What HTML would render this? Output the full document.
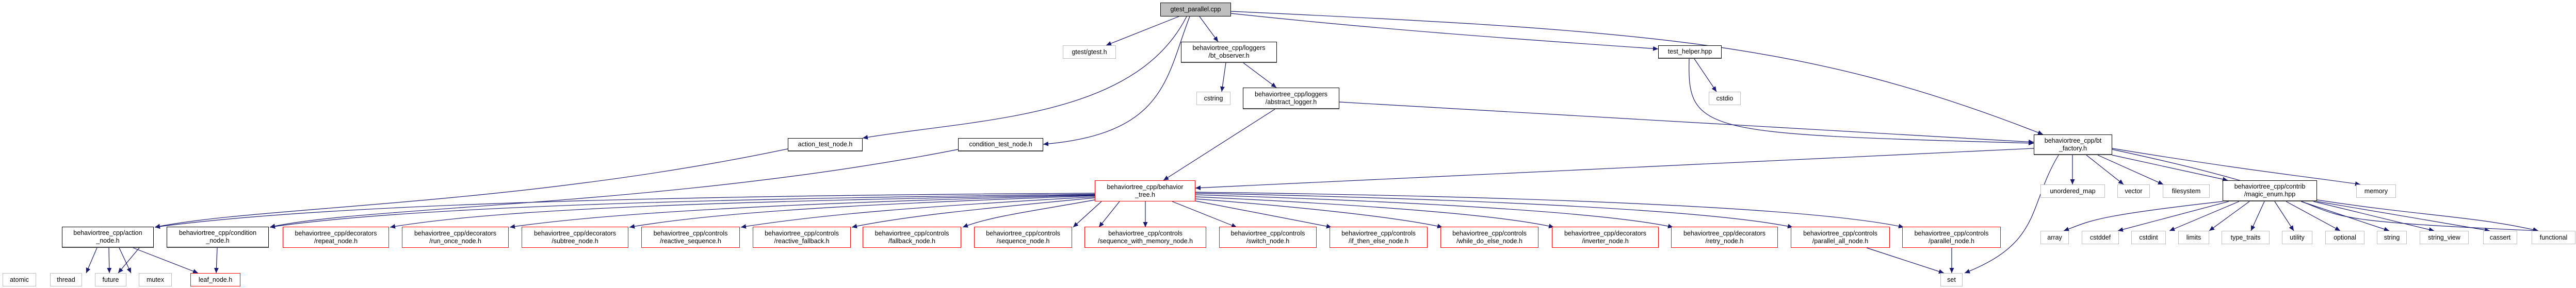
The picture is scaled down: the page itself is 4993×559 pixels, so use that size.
<!DOCTYPE html>
<html><head><meta charset="utf-8"><style>
html,body{margin:0;padding:0;background:#fff;}
body{width:4993px;height:559px;position:relative;overflow:hidden;font-family:"Liberation Sans","DejaVu Sans",sans-serif;}
.n{position:absolute;box-sizing:border-box;background:#fff;border:1px solid #000;font-size:12.5px;line-height:15px;text-align:center;color:#000;display:flex;align-items:center;justify-content:center;white-space:nowrap;}
.g{border-color:#bfbfbf;}
.r{border-color:#ff0000;}
.k{border-color:#000;border-bottom:2px solid #444;}
svg{position:absolute;left:0;top:0;}
</style></head><body>
<svg width="4993" height="559" viewBox="0 0 4993 559">
<defs><marker id="a" markerUnits="userSpaceOnUse" markerWidth="11" markerHeight="9" refX="10" refY="4.5" orient="auto"><path d="M0,0 L10,4.5 L0,9 z" fill="#191970"/></marker></defs>
<g fill="none" stroke="#191970" stroke-width="1.2" marker-end="url(#a)">
<path d="M2285,32 L2144,88"/>
<path d="M2325,32 L2361,81"/>
<path d="M2300,32 C2200,230 1900,230 1672,268"/>
<path d="M2306,32 C2260,150 2260,260 2022,280"/>
<path d="M2386,26 C2700,60 3000,80 3214,95"/>
<path d="M2386,22 C3200,60 3500,80 3960,261"/>
<path d="M2376,122 L2368,178"/>
<path d="M2410,122 L2474,170"/>
<path d="M2471,212 L2255,350"/>
<path d="M2596,198 L3942,276"/>
<path d="M3284,114 L3327,178"/>
<path d="M3274,114 C3270,260 3300,260 3942,278"/>
<path d="M1527,289 C1000,400 500,400 300,441"/>
<path d="M1857,290 C1300,400 700,400 523,441"/>
<path d="M3942,288 L2317,365"/>
<path d="M2122,375 C1200,380 600,400 300,441"/>
<path d="M2122,377 C1400,385 800,400 523,441"/>
<path d="M2122,378 C1500,390 1000,400 756,441"/>
<path d="M2122,379 C1600,392 1200,410 988,441"/>
<path d="M2122,380 C1700,395 1400,410 1220,441"/>
<path d="M2122,382 C1800,400 1600,415 1436,441"/>
<path d="M2122,384 C1900,405 1750,420 1651,441"/>
<path d="M2122,388 C2000,410 1920,420 1866,441"/>
<path d="M2135,391 L2080,441"/>
<path d="M2170,391 L2130,441"/>
<path d="M2220,391 L2220,441"/>
<path d="M2272,391 L2397,441"/>
<path d="M2317,390 L2581,441"/>
<path d="M2317,386 C2500,400 2700,420 2796,441"/>
<path d="M2317,382 C2600,395 2900,415 3012,441"/>
<path d="M2317,378 C2700,390 3100,410 3243,441"/>
<path d="M2317,375 C2800,385 3300,405 3475,441"/>
<path d="M2317,373 C2900,380 3500,400 3690,441"/>
<path d="M270,481 L229,530"/>
<path d="M188,481 L167,530"/>
<path d="M211,481 L212,530"/>
<path d="M231,481 L254,530"/>
<path d="M258,481 L384,530"/>
<path d="M421,481 L419,530"/>
<path d="M3618,481 L3768,530"/>
<path d="M3783,481 L3783,530"/>
<path d="M3990,301 C3930,400 3960,470 3808,530"/>
<path d="M4017,301 L4017,358"/>
<path d="M4044,301 L4116,358"/>
<path d="M4066,301 L4193,358"/>
<path d="M4094,301 L4318,350"/>
<path d="M4094,288 C4350,330 4450,340 4575,358"/>
<path d="M4094,290 C4700,420 4300,420 4920,448"/>
<path d="M4308,391 C4050,420 4050,430 4000,448"/>
<path d="M4320,391 L4105,448"/>
<path d="M4340,391 L4205,448"/>
<path d="M4360,391 L4282,448"/>
<path d="M4389,391 L4363,448"/>
<path d="M4409,391 L4446,448"/>
<path d="M4431,391 L4536,448"/>
<path d="M4460,391 L4631,448"/>
<path d="M4484,391 L4718,448"/>
<path d="M4491,391 L4826,448"/>
<path d="M4491,388 C4700,420 4800,420 4920,448"/>
</g>
</svg>
<div class="n" style="left:2249px;top:5px;width:137px;height:27px;background:#bfbfbf;">gtest_parallel.cpp</div>
<div class="n g" style="left:2060px;top:88px;width:103px;height:26px;">gtest/gtest.h</div>
<div class="n k" style="left:2289px;top:81px;width:186px;height:41px;">behaviortree_cpp/loggers<br>/bt_observer.h</div>
<div class="n g" style="left:2319px;top:178px;width:66px;height:26px;">cstring</div>
<div class="n k" style="left:2409px;top:170px;width:187px;height:42px;">behaviortree_cpp/loggers<br>/abstract_logger.h</div>
<div class="n k" style="left:3214px;top:88px;width:123px;height:26px;">test_helper.hpp</div>
<div class="n g" style="left:3312px;top:178px;width:62px;height:26px;">cstdio</div>
<div class="n k" style="left:1527px;top:268px;width:145px;height:26px;">action_test_node.h</div>
<div class="n k" style="left:1857px;top:268px;width:165px;height:26px;">condition_test_node.h</div>
<div class="n r" style="left:2122px;top:350px;width:195px;height:41px;">behaviortree_cpp/behavior<br>_tree.h</div>
<div class="n k" style="left:3942px;top:261px;width:152px;height:40px;">behaviortree_cpp/bt<br>_factory.h</div>
<div class="n k" style="left:120px;top:440px;width:178px;height:41px;">behaviortree_cpp/action<br>_node.h</div>
<div class="n k" style="left:323px;top:440px;width:198px;height:41px;">behaviortree_cpp/condition<br>_node.h</div>
<div class="n r" style="left:548px;top:440px;width:206px;height:41px;">behaviortree_cpp/decorators<br>/repeat_node.h</div>
<div class="n r" style="left:779px;top:440px;width:207px;height:41px;">behaviortree_cpp/decorators<br>/run_once_node.h</div>
<div class="n r" style="left:1011px;top:440px;width:207px;height:41px;">behaviortree_cpp/decorators<br>/subtree_node.h</div>
<div class="n r" style="left:1243px;top:440px;width:191px;height:41px;">behaviortree_cpp/controls<br>/reactive_sequence.h</div>
<div class="n r" style="left:1459px;top:440px;width:190px;height:41px;">behaviortree_cpp/controls<br>/reactive_fallback.h</div>
<div class="n r" style="left:1672px;top:440px;width:191px;height:41px;">behaviortree_cpp/controls<br>/fallback_node.h</div>
<div class="n r" style="left:1888px;top:440px;width:190px;height:41px;">behaviortree_cpp/controls<br>/sequence_node.h</div>
<div class="n r" style="left:2102px;top:440px;width:236px;height:41px;">behaviortree_cpp/controls<br>/sequence_with_memory_node.h</div>
<div class="n r" style="left:2363px;top:440px;width:189px;height:41px;">behaviortree_cpp/controls<br>/switch_node.h</div>
<div class="n r" style="left:2577px;top:440px;width:190px;height:41px;">behaviortree_cpp/controls<br>/if_then_else_node.h</div>
<div class="n r" style="left:2792px;top:440px;width:190px;height:41px;">behaviortree_cpp/controls<br>/while_do_else_node.h</div>
<div class="n r" style="left:3008px;top:440px;width:207px;height:41px;">behaviortree_cpp/decorators<br>/inverter_node.h</div>
<div class="n r" style="left:3239px;top:440px;width:207px;height:41px;">behaviortree_cpp/decorators<br>/retry_node.h</div>
<div class="n r" style="left:3471px;top:440px;width:192px;height:41px;">behaviortree_cpp/controls<br>/parallel_all_node.h</div>
<div class="n r" style="left:3687px;top:440px;width:191px;height:41px;">behaviortree_cpp/controls<br>/parallel_node.h</div>
<div class="n g" style="left:5px;top:530px;width:65px;height:26px;">atomic</div>
<div class="n g" style="left:97px;top:530px;width:62px;height:26px;">thread</div>
<div class="n g" style="left:184px;top:530px;width:61px;height:26px;">future</div>
<div class="n g" style="left:269px;top:530px;width:64px;height:26px;">mutex</div>
<div class="n r" style="left:369px;top:530px;width:97px;height:26px;">leaf_node.h</div>
<div class="n g" style="left:3761px;top:530px;width:43px;height:26px;">set</div>
<div class="n g" style="left:3955px;top:358px;width:125px;height:26px;">unordered_map</div>
<div class="n g" style="left:4104px;top:358px;width:63px;height:26px;">vector</div>
<div class="n g" style="left:4192px;top:358px;width:91px;height:26px;">filesystem</div>
<div class="n k" style="left:4308px;top:350px;width:183px;height:41px;">behaviortree_cpp/contrib<br>/magic_enum.hpp</div>
<div class="n g" style="left:4567px;top:358px;width:77px;height:26px;">memory</div>
<div class="n g" style="left:3955px;top:448px;width:55px;height:26px;">array</div>
<div class="n g" style="left:4035px;top:448px;width:72px;height:26px;">cstddef</div>
<div class="n g" style="left:4131px;top:448px;width:67px;height:26px;">cstdint</div>
<div class="n g" style="left:4222px;top:448px;width:60px;height:26px;">limits</div>
<div class="n g" style="left:4306px;top:448px;width:93px;height:26px;">type_traits</div>
<div class="n g" style="left:4423px;top:448px;width:59px;height:26px;">utility</div>
<div class="n g" style="left:4507px;top:448px;width:76px;height:26px;">optional</div>
<div class="n g" style="left:4607px;top:448px;width:58px;height:26px;">string</div>
<div class="n g" style="left:4690px;top:448px;width:95px;height:26px;">string_view</div>
<div class="n g" style="left:4813px;top:448px;width:66px;height:26px;">cassert</div>
<div class="n g" style="left:4907px;top:448px;width:85px;height:26px;">functional</div>
</body></html>
